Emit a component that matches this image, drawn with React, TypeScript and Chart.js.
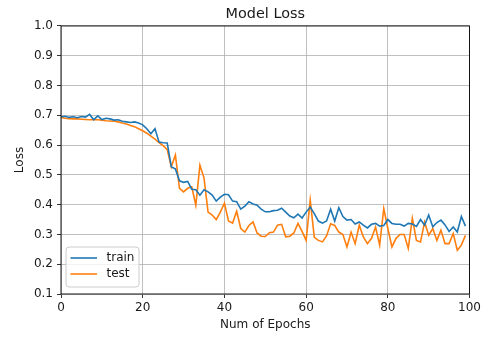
import React, { useEffect, useRef } from "react";
import { Chart, registerables } from "chart.js";

Chart.register(...registerables);

const chartTitle = "Model Loss";
const xAxisLabel = "Num of Epochs";
const yAxisLabel = "Loss";
const seriesNames = ["train", "test"];
const seriesColors = ["#1f77b4", "#ff7f0e"];

const trainLoss = [
  0.695, 0.697, 0.693, 0.695, 0.692, 0.696, 0.694, 0.703, 0.685, 0.698,
  0.686, 0.69, 0.688, 0.684, 0.685, 0.68, 0.678, 0.676, 0.678, 0.674,
  0.668, 0.655, 0.638, 0.655, 0.61, 0.608, 0.607, 0.527, 0.52, 0.48,
  0.475, 0.478, 0.452, 0.45, 0.432, 0.45, 0.443, 0.432, 0.412, 0.425,
  0.435, 0.433, 0.412, 0.41, 0.385, 0.395, 0.41, 0.402, 0.398, 0.385,
  0.376, 0.376, 0.38, 0.381, 0.388, 0.375, 0.362, 0.356, 0.368, 0.355,
  0.375, 0.392, 0.37, 0.345, 0.338, 0.345, 0.385, 0.345, 0.39, 0.36,
  0.348, 0.35, 0.335, 0.342, 0.331, 0.322, 0.334, 0.337, 0.328, 0.33,
  0.35, 0.337, 0.334, 0.334, 0.328, 0.337, 0.335, 0.327, 0.35, 0.331,
  0.365, 0.326, 0.34, 0.348, 0.332, 0.31, 0.325, 0.308, 0.36, 0.328,
];

const testLoss = [
  0.693, 0.69, 0.689, 0.688, 0.688, 0.687, 0.686, 0.685, 0.686, 0.685,
  0.684, 0.682, 0.681, 0.68, 0.678, 0.674, 0.671, 0.666, 0.662, 0.655,
  0.648, 0.64, 0.63, 0.62, 0.608, 0.598, 0.585, 0.527, 0.567, 0.455,
  0.443, 0.455, 0.46, 0.398, 0.533, 0.49, 0.375, 0.365, 0.35, 0.375,
  0.405, 0.345, 0.338, 0.378, 0.32, 0.308, 0.33, 0.342, 0.305, 0.294,
  0.293, 0.306, 0.308, 0.331, 0.334, 0.292, 0.294, 0.305, 0.337, 0.31,
  0.28, 0.415, 0.29, 0.28, 0.275, 0.295, 0.336, 0.33, 0.308, 0.3,
  0.258, 0.308, 0.269, 0.331, 0.292, 0.269, 0.287, 0.325, 0.264, 0.387,
  0.32, 0.258, 0.287, 0.3, 0.3, 0.253, 0.354, 0.28, 0.275, 0.342,
  0.297, 0.32, 0.28, 0.314, 0.269, 0.269, 0.303, 0.247, 0.264, 0.297,
];

const xMin = 0;
const xMax = 100;
const xStep = 20;
const yMin = 0.1;
const yMax = 1.0;
const yStep = 0.1;

const FONT = "'DejaVu Sans', sans-serif";
const TEXT = "#1a1a1a";

const framePlugin = {
  id: "frameAndLegend",
  afterDatasetsDraw(chart: any) {
    const { ctx, chartArea } = chart;
    const { left, top, right, bottom } = chartArea;
    ctx.save();
    ctx.strokeStyle = "#000";
    ctx.lineWidth = 0.9;
    ctx.strokeRect(left, top, right - left, bottom - top);

    // legend (lower left)
    const bx = left + 5;
    const bw = 73;
    const bh = 40;
    const by = bottom - 7 - bh;
    const r = 3;
    ctx.beginPath();
    ctx.moveTo(bx + r, by);
    ctx.lineTo(bx + bw - r, by);
    ctx.quadraticCurveTo(bx + bw, by, bx + bw, by + r);
    ctx.lineTo(bx + bw, by + bh - r);
    ctx.quadraticCurveTo(bx + bw, by + bh, bx + bw - r, by + bh);
    ctx.lineTo(bx + r, by + bh);
    ctx.quadraticCurveTo(bx, by + bh, bx, by + bh - r);
    ctx.lineTo(bx, by + r);
    ctx.quadraticCurveTo(bx, by, bx + r, by);
    ctx.closePath();
    ctx.fillStyle = "rgba(255,255,255,0.8)";
    ctx.fill();
    ctx.strokeStyle = "#cccccc";
    ctx.lineWidth = 1;
    ctx.stroke();

    ctx.font = `12px ${FONT}`;
    ctx.textBaseline = "middle";
    ctx.textAlign = "left";
    seriesNames.forEach((name, i) => {
      const ly = by + 11 + i * 16;
      ctx.strokeStyle = seriesColors[i];
      ctx.lineWidth = 1.6;
      ctx.beginPath();
      ctx.moveTo(bx + 4.5, ly);
      ctx.lineTo(bx + 31, ly);
      ctx.stroke();
      ctx.fillStyle = TEXT;
      ctx.fillText(name, bx + 40.5, ly);
    });
    ctx.restore();
  },
};

export default function App() {
  const canvasRef = useRef<HTMLCanvasElement | null>(null);

  useEffect(() => {
    const canvas = canvasRef.current;
    if (!canvas) return;
    const series = [trainLoss, testLoss];
    const chart = new Chart(canvas, {
      type: "line",
      data: {
        datasets: series.map((vals, i) => ({
          label: seriesNames[i],
          data: vals.map((y, x) => ({ x, y })),
          borderColor: seriesColors[i],
          backgroundColor: seriesColors[i],
          borderWidth: 1.6,
          pointRadius: 0,
          tension: 0,
          fill: false,
        })),
      },
      options: {
        responsive: false,
        animation: false,
        devicePixelRatio: 1,
        layout: { padding: { left: 0, right: 13, top: 0, bottom: 0 } },
        plugins: {
          legend: { display: false },
          tooltip: { enabled: false },
          title: {
            display: true,
            text: chartTitle,
            fullSize: false,
            color: TEXT,
            font: { family: FONT, size: 14.4, weight: "normal" },
            padding: { top: 5.4, bottom: 3.3 },
          },
        },
        scales: {
          x: {
            type: "linear",
            min: xMin,
            max: xMax,
            afterFit: (s: any) => {
              s.height = 44;
            },
            ticks: {
              stepSize: xStep,
              color: TEXT,
              font: { family: FONT, size: 12 },
              padding: 3,
              maxRotation: 0,
              callback: (v: any) => String(v),
            },
            grid: {
              color: "#b0b0b0",
              lineWidth: 0.8,
              tickLength: 4,
              tickColor: "#000",
            },
            border: { display: false },
            title: {
              display: true,
              text: xAxisLabel,
              color: TEXT,
              font: { family: FONT, size: 12 },
              padding: { top: 0, bottom: 5.8 },
            },
          },
          y: {
            type: "linear",
            min: yMin,
            max: yMax,
            afterFit: (s: any) => {
              s.width = 61;
            },
            ticks: {
              stepSize: yStep,
              color: TEXT,
              font: { family: FONT, size: 12 },
              padding: 4,
              callback: (v: any) => Number(v).toFixed(1),
            },
            grid: {
              color: "#b0b0b0",
              lineWidth: 0.8,
              tickLength: 4,
              tickColor: "#000",
            },
            border: { display: false },
            title: {
              display: true,
              text: yAxisLabel,
              color: TEXT,
              font: { family: FONT, size: 12 },
              padding: { top: 12.8, bottom: 0 },
            },
          },
        },
      },
      plugins: [framePlugin],
    });
    return () => chart.destroy();
  }, []);

  return (
    <div style={{ position: "fixed", left: 0, top: 0, width: 484, height: 338, background: "#fff" }}>
      <canvas ref={canvasRef} width={484} height={338} style={{ display: "block" }} />
    </div>
  );
}
